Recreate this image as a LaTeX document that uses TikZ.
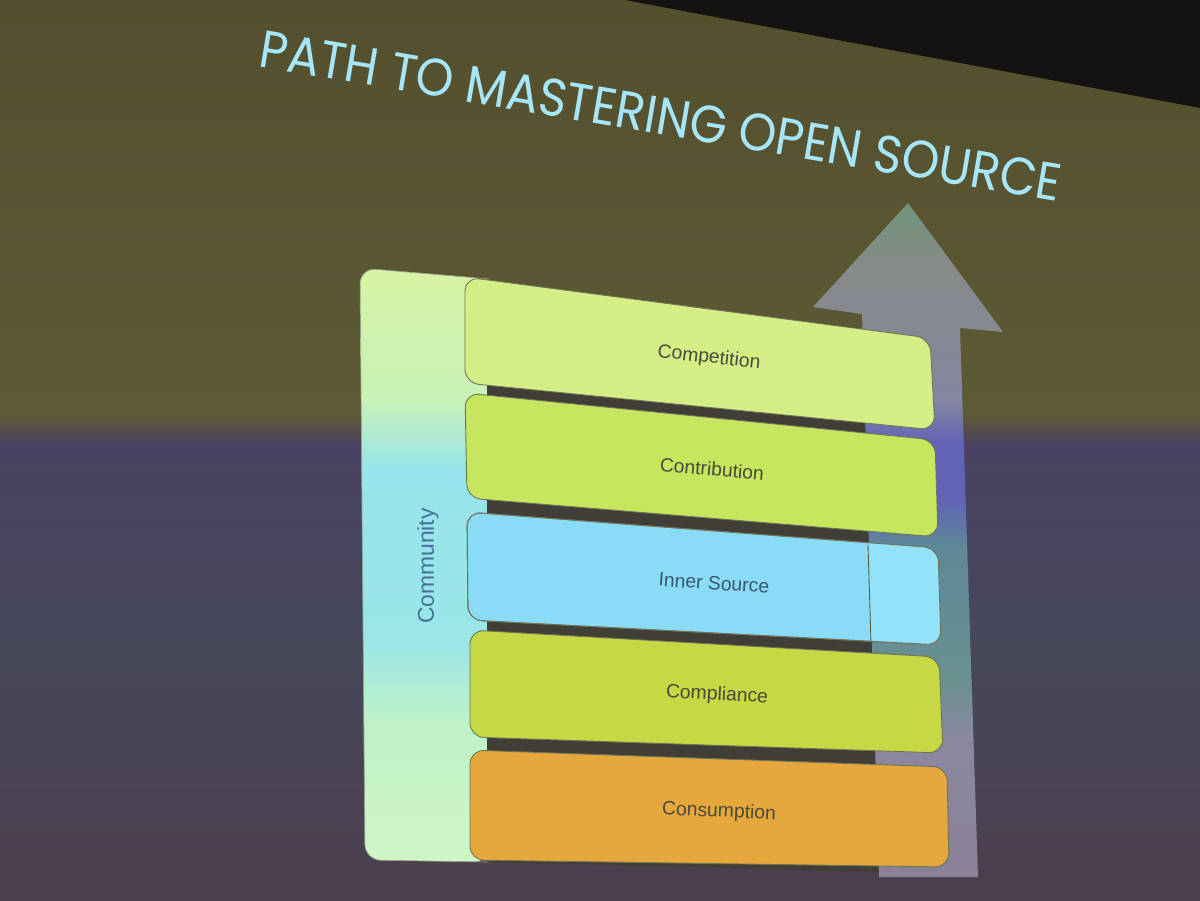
\documentclass[tikz,border=0pt]{standalone}
\usepackage{fontspec}
\setmainfont{Liberation Sans}
\newfontfamily\titlefont{Poppins}
\definecolor{bgA}{HTML}{544F2C}
\definecolor{bgB}{HTML}{5D5A36}
\definecolor{bgC}{HTML}{4A4262}
\definecolor{bgD}{HTML}{46485A}
\definecolor{bgE}{HTML}{4C3E4E}
\definecolor{cornerblack}{HTML}{141312}
\definecolor{titleblue}{HTML}{A6E6FA}
\definecolor{gapcol}{HTML}{403E36}
\definecolor{boxline}{HTML}{6E7458}
\definecolor{competcol}{HTML}{D5EF86}
\definecolor{contribcol}{HTML}{C6E65E}
\definecolor{innercol}{HTML}{8ADCF6}
\definecolor{innercolb}{HTML}{92E2FA}
\definecolor{complcol}{HTML}{C6D843}
\definecolor{consumcol}{HTML}{E6A73C}
\definecolor{lbltext}{HTML}{4A4A3C}
\definecolor{innertext}{HTML}{3A5670}
\definecolor{commtext}{HTML}{44709A}
% panel shades
\definecolor{pA}{HTML}{D8F4A2}
\definecolor{pB}{HTML}{C8F2B8}
\definecolor{pC}{HTML}{96E4EC}
\definecolor{pD}{HTML}{9AE6E8}
\definecolor{pE}{HTML}{BEF2C8}
\definecolor{pF}{HTML}{D0F6C4}
% arrow shades
\definecolor{aA}{HTML}{6D9577}
\definecolor{aB}{HTML}{868A88}
\definecolor{aC}{HTML}{8586A0}
\definecolor{aD}{HTML}{6464B6}
\definecolor{aE}{HTML}{6262B6}
\definecolor{aF}{HTML}{5E8898}
\definecolor{aG}{HTML}{6A9090}
\definecolor{aH}{HTML}{8A88A0}
\definecolor{aI}{HTML}{8A8098}
\tikzset{
  boxshape/.style={draw=boxline, line width=0.5pt, rounded corners=8pt},
  lbl/.style={font=\fontsize{11}{11}\selectfont, text=lbltext, inner sep=0pt},
}
\begin{document}
\begin{tikzpicture}[x=0.02cm,y=-0.02cm]
\useasboundingbox (0,0) rectangle (1200,900);
% background
\shade[top color=bgA, bottom color=bgB] (0,0) rectangle (1200,416);
\shade[top color=bgB, bottom color=bgC] (0,415) rectangle (1200,446);
\shade[top color=bgC, bottom color=bgD] (0,445) rectangle (1200,651);
\shade[top color=bgD, bottom color=bgE] (0,650) rectangle (1200,900);
\fill[cornerblack] (625,0) -- (1200,108) -- (1200,0) -- cycle;
% title
\node[rotate=-9.6, text=titleblue, inner sep=0pt] (title) at (661,116)
  {\titlefont\fontsize{30}{30}\selectfont\scalebox{0.91}[1]{PATH TO MASTERING OPEN SOURCE}};
% community panel
\begin{scope}
\clip[rounded corners=9pt] (360,268) -- (490,279) -- (490,862) -- (365,860) -- cycle;
\shade[top color=pA, bottom color=pB] (350,260) rectangle (500,401);
\shade[top color=pB, bottom color=pC] (350,400) rectangle (500,471);
\shade[top color=pC, bottom color=pD] (350,470) rectangle (500,641);
\shade[top color=pD, bottom color=pE] (350,640) rectangle (500,721);
\shade[top color=pE, bottom color=pF] (350,720) rectangle (500,870);
\end{scope}
\draw[boxline!70, line width=0.4pt, rounded corners=9pt] (490,279) -- (360,268) -- (365,860) -- (490,862);
\node[rotate=90, font=\fontsize{13}{13}\selectfont, text=commtext, inner sep=0pt] (community) at (428,566) {Community};
% dark strips between boxes
\fill[gapcol] (487,282) -- (875,330) -- (885,872) -- (487,862) -- cycle;
% arrow
\begin{scope}
\clip (908,203) -- (1003,332) -- (960,328) -- (978,877) -- (879,877) -- (862,314) -- (813,307) -- cycle;
\shade[top color=aA, bottom color=aB] (800,195) rectangle (1010,266);
\shade[top color=aB, bottom color=aC] (800,265) rectangle (1010,401);
\shade[top color=aC, bottom color=aD] (800,400) rectangle (1010,441);
\shade[top color=aD, bottom color=aE] (800,440) rectangle (1010,501);
\shade[top color=aE, bottom color=aF] (800,500) rectangle (1010,546);
\shade[top color=aF, bottom color=aG] (800,545) rectangle (1010,681);
\shade[top color=aG, bottom color=aH] (800,680) rectangle (1010,741);
\shade[top color=aH, bottom color=aI] (800,740) rectangle (1010,880);
\end{scope}
% boxes
\path[boxshape, fill=competcol] (465,277) -- (930,338) -- (935,430) -- (465,383) -- cycle;
\path[boxshape, fill=contribcol] (465,393) -- (935,440) -- (938,537) -- (467,498) -- cycle;
\path[boxshape, fill=innercol] (467,512) -- (938,548) -- (941,645) -- (468,620) -- cycle;
\begin{scope}
\clip[rounded corners=8pt] (467,512) -- (938,548) -- (941,645) -- (468,620) -- cycle;
\fill[innercolb] (869,530) -- (960,530) -- (960,660) -- (871,660) -- cycle;
\end{scope}
\path[boxshape] (467,512) -- (938,548) -- (941,645) -- (468,620) -- cycle;
\draw[boxline!80!black, line width=0.5pt] (868,545) -- (871,643);
\path[boxshape, fill=complcol] (470,630) -- (939,657) -- (943,753) -- (470,737) -- cycle;
\path[boxshape, fill=consumcol] (470,750) -- (947,767) -- (949,867) -- (470,860) -- cycle;
% labels
\node[lbl, rotate=-6.2] (competition) at (709,358) {Competition};
\node[lbl, rotate=-4.6] (contribution) at (712,469) {Contribution};
\node[lbl, rotate=-3.8, text=innertext] (innersource) at (714,583) {Inner Source};
\node[lbl, rotate=-3.0] (compliance) at (717,695) {Compliance};
\node[lbl, rotate=-2.6] (consumption) at (719,812) {Consumption};
\end{tikzpicture}
\end{document}
